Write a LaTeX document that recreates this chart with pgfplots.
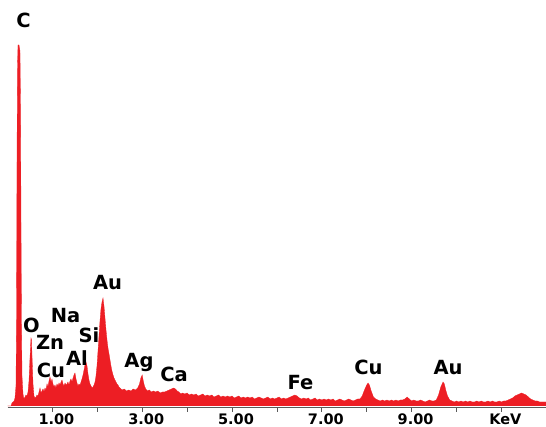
\documentclass[border=0pt]{standalone}
\usepackage{fontspec}
\setmainfont{DejaVu Sans}
\usepackage{pgfplots}
\pgfplotsset{compat=1.18}
\definecolor{edsred}{RGB}{237,30,36}
\definecolor{axgray}{RGB}{90,90,90}
\newcommand{\elfont}{\bfseries\fontsize{19.5}{19.5}\selectfont}
\begin{document}
\begin{tikzpicture}
\begin{axis}[
  at={(0,0)}, anchor=south west,
  scale only axis,
  width=538.8pt, height=408pt,
  xmin=0, xmax=12, ymin=-2, ymax=406,
  axis x line=bottom, axis y line=none,
  x axis line style={-, draw=axgray, line width=1pt},
  xtick={1,2,3,4,5,6,7,8,9,10,11},
  xticklabels={1.00,,3.00,,5.00,,7.00,,9.00,,KeV},
  tick align=outside,
  major tick length=4pt,
  xtick style={draw=axgray, line width=0.8pt},
  xticklabel style={font=\bfseries\fontsize{14.5}{14.5}\selectfont, anchor=north, inner sep=0pt, yshift=-1.5pt, xshift=4pt},
  ytick=\empty,
  clip=false,
]
\addplot[fill=edsred, draw=edsred, line width=0.3pt] table {
x y
0.000 0
0.078 0
0.100 3
0.145 5
0.167 8
0.189 20
0.200 80
0.212 250
0.223 340
0.234 361
0.256 361
0.278 355
0.290 300
0.301 180
0.312 80
0.323 30
0.345 12
0.367 7
0.390 9
0.412 11
0.434 10
0.457 14
0.479 25
0.501 48
0.523 68
0.535 66
0.546 50
0.568 22
0.590 10
0.612 8
0.635 9
0.657 11
0.679 10
0.702 14
0.724 18
0.746 13
0.768 15
0.791 17
0.813 14
0.835 18
0.857 16
0.880 22
0.902 19
0.924 25
0.947 29
0.969 24
0.991 27
1.013 22
1.036 19
1.058 21
1.080 18
1.102 22
1.125 20
1.147 23
1.169 21
1.192 24
1.214 26
1.236 22
1.258 20
1.281 23
1.303 21
1.325 22
1.347 24
1.370 21
1.392 25
1.414 27
1.437 24
1.459 28
1.481 31
1.503 33
1.526 27
1.548 23
1.570 20
1.592 22
1.615 21
1.637 24
1.659 27
1.682 31
1.704 36
1.726 41
1.748 44
1.771 40
1.793 32
1.815 26
1.837 22
1.860 20
1.882 18
1.904 19
1.927 21
1.949 24
1.971 30
1.993 40
2.016 55
2.038 70
2.060 85
2.082 97
2.105 104
2.127 108
2.149 100
2.171 88
2.194 76
2.216 66
2.238 58
2.261 52
2.283 46
2.305 40
2.327 35
2.350 31
2.372 28
2.394 26
2.416 24
2.439 22
2.461 21
2.483 19
2.506 18
2.55 16
2.60 17
2.65 15
2.70 16
2.75 15
2.80 17
2.85 16
2.90 18
2.94 22
2.97 28
3.00 31
3.02 26
3.05 20
3.08 17
3.12 15
3.16 16
3.20 14
3.25 15
3.30 14
3.35 15
3.40 13
3.45 14
3.50 14
3.55 15
3.60 16
3.65 17
3.70 18
3.74 17
3.78 15
3.82 14
3.86 12
3.90 13
3.95 12
4.00 13
4.05 11
4.10 12
4.15 11
4.20 12
4.25 10
4.30 11
4.35 12
4.40 10
4.45 11
4.50 10
4.55 11
4.60 9
4.65 10
4.70 11
4.75 9
4.80 10
4.85 9
4.90 10
4.95 9
5.00 10
5.05 8
5.10 9
5.15 10
5.20 8
5.25 9
5.30 8
5.35 9
5.40 8
5.45 9
5.50 7
5.55 8
5.60 9
5.65 8
5.70 7
5.75 8
5.80 9
5.85 7
5.90 8
5.95 7
6.00 8
6.05 9
6.10 7
6.15 8
6.20 7
6.25 8
6.30 9
6.35 10
6.40 11
6.45 10
6.50 8
6.55 7
6.60 8
6.65 7
6.70 8
6.75 6
6.80 7
6.85 8
6.90 6
6.95 7
7.00 6
7.05 7
7.10 6
7.15 7
7.20 6
7.25 7
7.30 5
7.35 6
7.40 7
7.45 6
7.50 5
7.55 6
7.60 7
7.65 6
7.70 5
7.75 6
7.80 7
7.85 7
7.90 10
7.95 16
8.00 21
8.03 23
8.06 21
8.10 15
8.15 9
8.20 7
8.25 6
8.30 5
8.35 6
8.40 5
8.45 6
8.50 5
8.55 6
8.60 5
8.65 6
8.70 5
8.75 6
8.80 6
8.85 7
8.90 9
8.95 7
9.00 5
9.05 6
9.10 5
9.15 5
9.20 6
9.25 5
9.30 4
9.35 5
9.40 6
9.45 5
9.50 5
9.55 6
9.60 11
9.65 19
9.70 24
9.73 22
9.76 16
9.80 10
9.85 6
9.90 5
9.95 4
10.00 5
10.05 4
10.10 5
10.15 4
10.20 5
10.25 4
10.30 5
10.35 4
10.40 4
10.45 5
10.50 4
10.55 5
10.60 4
10.65 4
10.70 5
10.75 4
10.80 5
10.85 4
10.90 4
10.95 5
11.00 4
11.05 5
11.10 5
11.15 6
11.20 7
11.25 8
11.30 10
11.35 11
11.40 12
11.45 13
11.50 12
11.55 11
11.60 9
11.65 7
11.70 6
11.75 5
11.80 5
11.85 4
11.90 4
11.95 4
12.00 4
12.00 0
};
\node[anchor=base, inner sep=0pt, font=\elfont] at (axis cs:0.356,378) {C};
\node[anchor=base, inner sep=0pt, font=\elfont] at (axis cs:0.535,73) {O};
\node[anchor=base, inner sep=0pt, font=\elfont] at (axis cs:1.292,83) {Na};
\node[anchor=base, inner sep=0pt, font=\elfont] at (axis cs:0.947,56) {Zn};
\node[anchor=base, inner sep=0pt, font=\elfont] at (axis cs:1.815,63) {Si};
\node[anchor=base, inner sep=0pt, font=\elfont] at (axis cs:1.548,40) {Al};
\node[anchor=base, inner sep=0pt, font=\elfont] at (axis cs:0.969,28) {Cu};
\node[anchor=base, inner sep=0pt, font=\elfont] at (axis cs:2.227,116) {Au};
\node[anchor=base, inner sep=0pt, font=\elfont] at (axis cs:2.929,38) {Ag};
\node[anchor=base, inner sep=0pt, font=\elfont] at (axis cs:3.708,24) {Ca};
\node[anchor=base, inner sep=0pt, font=\elfont] at (axis cs:6.526,16) {Fe};
\node[anchor=base, inner sep=0pt, font=\elfont] at (axis cs:8.040,31) {Cu};
\node[anchor=base, inner sep=0pt, font=\elfont] at (axis cs:9.811,31) {Au};
\end{axis}
\pgfresetboundingbox
\path (-7.5pt,-19pt) rectangle (538.5pt,408pt);
\end{tikzpicture}
\end{document}
